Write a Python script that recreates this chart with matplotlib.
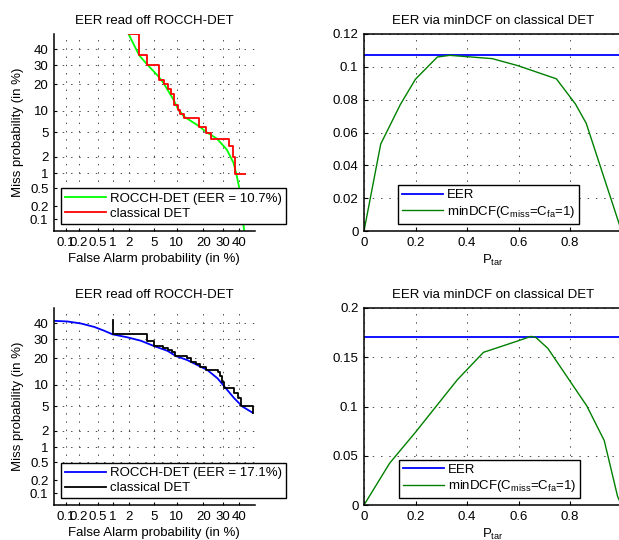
import numpy as np
import matplotlib
matplotlib.use("Agg")
import matplotlib.pyplot as plt
from statistics import NormalDist

plt.rcParams['font.family'] = ['Liberation Sans', 'DejaVu Sans']
plt.rcParams['font.size'] = 9.5
plt.rcParams['axes.titlesize'] = 9.5
plt.rcParams['mathtext.fontset'] = 'custom'
plt.rcParams['mathtext.rm'] = 'Liberation Sans'
plt.rcParams['mathtext.it'] = 'Liberation Sans:italic'

# DET axis ticks (in %)
det_ticks = [0.1, 0.2, 0.5, 1, 2, 5, 10, 20, 30, 40]
det_tick_labels = ['0.1', '0.2', '0.5', '1', '2', '5', '10', '20', '30', '40']
det_lims = [0.05, 50]

# system 1: ROCCH-DET (green) and classical DET (red), values in %
rocch1_pfa = [1.93, 2.92, 3.86, 5.74, 6.75, 9.17, 10.3, 12.2, 18.1, 21.3, 26.8,
              32.4, 36.4, 38.1, 40.0, 41.3, 42.3, 43.2]
rocch1_pmiss = [50.0, 36.0, 30.7, 23.9, 20.6, 13.6, 10.8, 8.46, 6.17, 5.10, 4.02,
                2.67, 1.57, 0.99, 0.51, 0.22, 0.089, 0.05]
det1_pfa = [1.93, 2.92, 3.86, 5.74, 6.75, 7.74, 8.47, 9.34, 10.3, 11.1, 12.2,
            18.1, 21.3, 23.6, 33.4, 36.1, 37.5, 43.8]
det1_pmiss = [50.0, 36.0, 30.0, 22.0, 20.2, 18.0, 15.9, 11.9, 10.3, 9.07, 8.04,
              5.96, 4.92, 4.02, 3.04, 2.0, 0.99, 0.99]

# system 2: ROCCH-DET (blue) and classical DET (black), values in %
rocch2_pfa = [0.0506, 0.107, 0.219, 0.426, 0.681, 0.988, 1.85, 3.11, 4.98, 7.65,
              9.83, 13.5, 17.4, 21.9, 27.1, 31.8, 36.8, 42.1, 48.6]
rocch2_pmiss = [41.5, 41.1, 39.8, 37.6, 35.2, 33.0, 31.2, 29.2, 26.2, 23.7,
                21.1, 19.2, 17.0, 15.0, 12.0, 9.0, 6.6, 4.97, 4.02]
det2_pfa = [0.99, 0.99, 3.86, 4.86, 6.54, 7.65, 8.64, 9.55, 13.5, 14.8, 16.7,
            18.5, 21.2, 27.1, 28.6, 29.5, 30.9, 36.8, 38.9, 41.4, 48.6]
det2_pmiss = [42.0, 33.0, 29.2, 26.2, 25.0, 24.1, 22.9, 21.1, 20.0, 18.5, 17.5,
              16.3, 15.0, 14.4, 12.8, 10.9, 9.0, 7.9, 6.6, 5.0, 4.0]

# minDCF vs P_tar
eer1 = 0.107
ptar1 = [0.0, 0.065, 0.141, 0.2, 0.285, 0.333, 0.498, 0.598, 0.747, 0.821, 0.863, 1.0]
mindcf1 = [0.0, 0.053, 0.077, 0.0925, 0.106, 0.107, 0.105, 0.1007, 0.0927, 0.0774,
           0.0656, 0.0]
eer2 = 0.171
ptar2 = [0.0, 0.0995, 0.2, 0.362, 0.464, 0.6, 0.649, 0.668, 0.714, 0.865, 0.933,
         0.985, 1.0]
mindcf2 = [0.0, 0.0424, 0.0739, 0.127, 0.155, 0.1668, 0.1712, 0.170, 0.159, 0.1007,
           0.0654, 0.0085, 0.0]

ptar_ticks = [0, 0.2, 0.4, 0.6, 0.8]
ptar_tick_labels = ['0', '0.2', '0.4', '0.6', '0.8']
dcf1_ticks = [0, 0.02, 0.04, 0.06, 0.08, 0.1, 0.12]
dcf1_tick_labels = ['0', '0.02', '0.04', '0.06', '0.08', '0.1', '0.12']
dcf2_ticks = [0, 0.05, 0.1, 0.15, 0.2]
dcf2_tick_labels = ['0', '0.05', '0.1', '0.15', '0.2']

nd = NormalDist()
_ppf = np.vectorize(nd.inv_cdf, otypes=[float])
_cdf = np.vectorize(nd.cdf, otypes=[float])


def probit(p):
    p = np.clip(np.asarray(p, dtype=float) / 100.0, 1e-12, 1 - 1e-12)
    return _ppf(p)


def inv_probit(z):
    return _cdf(np.asarray(z, dtype=float)) * 100.0


W, H = 619, 540
fig = plt.figure(figsize=(W / 100, H / 100), dpi=100)


def box(x0, y0, x1, y1):
    return [x0 / W, 1 - y1 / H, (x1 - x0) / W, (y1 - y0) / H]


def fig_pt(x, y):
    return (x / W, 1 - y / H)


grid_kw = dict(color='0.3', linestyle=(0, (1.5, 7)), linewidth=0.7)
leg_kw = dict(loc='lower left', bbox_transform=fig.transFigure, borderaxespad=0,
              fancybox=False, framealpha=1, edgecolor='k', handlelength=3.1,
              handletextpad=0.3, borderpad=0.3, labelspacing=0.2)


def det_axes(rect, rocch_pfa, rocch_pmiss, det_pfa, det_pmiss, c1, c2, eer, leg_box):
    ax = fig.add_axes(box(*rect))
    ax.set_xscale('function', functions=(probit, inv_probit))
    ax.set_yscale('function', functions=(probit, inv_probit))
    ax.plot(rocch_pfa, rocch_pmiss, color=c1, lw=1.3,
            label='ROCCH-DET (EER = %.1f%%)' % eer)
    ax.plot(det_pfa, det_pmiss, color=c2, lw=1.3, drawstyle='steps-post',
            label='classical DET')
    ax.set_xlim(det_lims)
    ax.set_ylim(det_lims)
    ax.set_xticks(det_ticks)
    ax.set_xticklabels(det_tick_labels)
    ax.set_yticks(det_ticks)
    ax.set_yticklabels(det_tick_labels)
    ax.minorticks_off()
    ax.grid(True, **grid_kw)
    ax.spines['top'].set_visible(False)
    ax.spines['right'].set_visible(False)
    for s in ('left', 'bottom'):
        ax.spines[s].set_linewidth(1.1)
    ax.tick_params(direction='in', length=2, pad=4)
    ax.set_title('EER read off ROCCH-DET', pad=7)
    ax.set_xlabel('False Alarm probability (in %)', labelpad=3)
    ax.set_ylabel('Miss probability (in %)', labelpad=4)
    leg = ax.legend(bbox_to_anchor=fig_pt(*leg_box), **leg_kw)
    leg.get_frame().set_linewidth(1.0)
    return ax


def dcf_axes(rect, ptar, mindcf, eer, ylim, yticks, ylabels, leg_box):
    ax = fig.add_axes(box(*rect))
    ax.plot([0, 1], [eer, eer], color='b', lw=1.3, label='EER')
    ax.plot(ptar, mindcf, color='#008000', lw=1.0,
            label=r'minDCF(C$_{\mathrm{miss}}$=C$_{\mathrm{fa}}$=1)')
    ax.set_xlim(0, 1)
    ax.set_ylim(ylim)
    ax.set_xticks(ptar_ticks)
    ax.set_xticklabels(ptar_tick_labels)
    ax.set_yticks(yticks)
    ax.set_yticklabels(ylabels)
    ax.grid(True, **grid_kw)
    for s in ax.spines.values():
        s.set_linewidth(1.1)
    ax.tick_params(direction='in', length=3, pad=4)
    ax.set_title('EER via minDCF on classical DET', pad=7)
    ax.set_xlabel(r'P$_{\mathrm{tar}}$', labelpad=3)
    leg = ax.legend(bbox_to_anchor=fig_pt(*leg_box), **leg_kw)
    leg.get_frame().set_linewidth(1.0)
    return ax


det_axes((54, 34, 254.7, 231), rocch1_pfa, rocch1_pmiss, det1_pfa, det1_pmiss,
         '#00ff00', 'r', 10.7, (61, 223.5))
det_axes((54, 308, 254.7, 505), rocch2_pfa, rocch2_pmiss, det2_pfa, det2_pmiss,
         'b', 'k', 17.1, (61, 498.3))
dcf_axes((364, 34, 621.5, 231), ptar1, mindcf1, eer1, (0, 0.12),
         dcf1_ticks, dcf1_tick_labels, (398.3, 224))
dcf_axes((364, 308, 621.5, 505), ptar2, mindcf2, eer2, (0, 0.2),
         dcf2_ticks, dcf2_tick_labels, (399.3, 498.3))

fig.savefig('out.png', dpi=100)
